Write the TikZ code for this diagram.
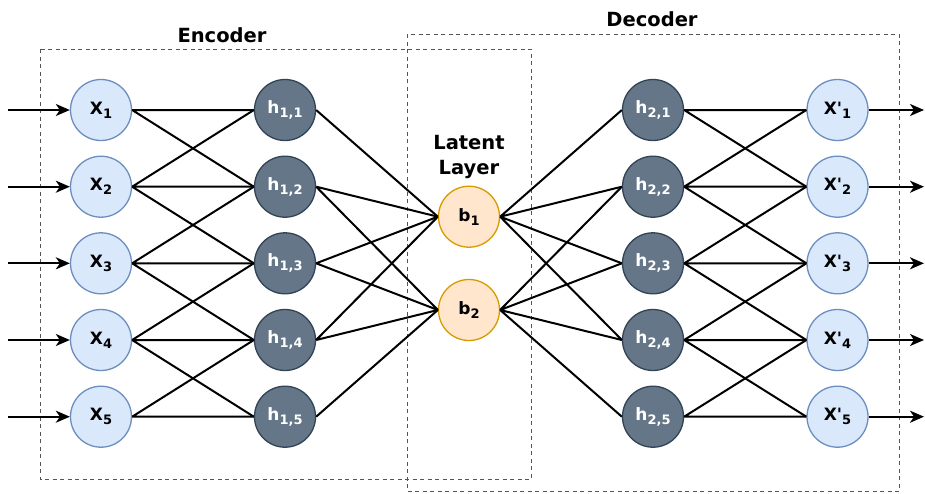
\documentclass[tikz,border=0pt]{standalone}
\usepackage{fontspec}
\setmainfont{DejaVu Sans}
\usetikzlibrary{arrows.meta}
\definecolor{infill}{HTML}{DAE8FC}
\definecolor{inedge}{HTML}{6C8EBF}
\definecolor{hidfill}{HTML}{647687}
\definecolor{hidedge}{HTML}{314354}
\definecolor{latfill}{HTML}{FFE6CC}
\definecolor{latedge}{HTML}{D79B00}
\definecolor{boxgray}{HTML}{555555}
% lowered index for the unit labels
\newcommand{\lsub}[1]{\raisebox{-0.45ex}{\fontsize{13}{13}\selectfont #1}}
\tikzset{
	unit/.style={
		circle,
		line width=1.3pt,
		minimum size=61pt,
		inner sep=0pt,
		font=\bfseries\fontsize{17}{18}\selectfont
	},
	xnode/.style={unit, draw=inedge, fill=infill},
	hnode/.style={unit, draw=hidedge, fill=hidfill, text=white},
	bnode/.style={unit, draw=latedge, fill=latfill},
	link/.style={line width=2pt},
	flow/.style={link, -{Stealth[length=14pt,width=12pt,inset=4pt]}},
	group/.style={draw=boxgray, line width=1pt, dash pattern=on 4pt off 3.5pt},
	title/.style={font=\bfseries\fontsize{19.5}{25}\selectfont, align=center}
}

\begin{document}
\begin{tikzpicture}[x=1pt,y=-1pt]
	\useasboundingbox (0,0) rectangle (925,493);
	
	% dashed frames
	\draw[group] (40,49) rectangle (531,479);
	\draw[group] (407,34) rectangle (899,491);
	\node[title] (enc) at (222,35) {Encoder};
	\node[title] (dec) at (652,19) {Decoder};
	\node[title] (lat) at (469,157) {Latent\\Layer};
	
	% input layer
	\node[xnode] (x1) at (101,110) {X\lsub{1}};
	\node[xnode] (x2) at (101,186.7) {X\lsub{2}};
	\node[xnode] (x3) at (101,263.3) {X\lsub{3}};
	\node[xnode] (x4) at (101,340) {X\lsub{4}};
	\node[xnode] (x5) at (101,416.7) {X\lsub{5}};
	
	% first hidden layer
	\node[hnode] (h11) at (285,110) {h\lsub{1,1}};
	\node[hnode] (h12) at (285,186.7) {h\lsub{1,2}};
	\node[hnode] (h13) at (285,263.3) {h\lsub{1,3}};
	\node[hnode] (h14) at (285,340) {h\lsub{1,4}};
	\node[hnode] (h15) at (285,416.7) {h\lsub{1,5}};
	
	% latent layer
	\node[bnode] (b1) at (469,216.7) {b\lsub{1}};
	\node[bnode] (b2) at (469,310) {b\lsub{2}};
	
	% second hidden layer
	\node[hnode] (h21) at (653,110) {h\lsub{2,1}};
	\node[hnode] (h22) at (653,186.7) {h\lsub{2,2}};
	\node[hnode] (h23) at (653,263.3) {h\lsub{2,3}};
	\node[hnode] (h24) at (653,340) {h\lsub{2,4}};
	\node[hnode] (h25) at (653,416.7) {h\lsub{2,5}};
	
	% output layer
	\node[xnode] (y1) at (837.5,110) {X\textquotesingle\lsub{1}};
	\node[xnode] (y2) at (837.5,186.7) {X\textquotesingle\lsub{2}};
	\node[xnode] (y3) at (837.5,263.3) {X\textquotesingle\lsub{3}};
	\node[xnode] (y4) at (837.5,340) {X\textquotesingle\lsub{4}};
	\node[xnode] (y5) at (837.5,416.7) {X\textquotesingle\lsub{5}};
	
	% free ends of the in/out arrows
	\coordinate (in1) at (8,110);
	\coordinate (in2) at (8,186.7);
	\coordinate (in3) at (8,263.3);
	\coordinate (in4) at (8,340);
	\coordinate (in5) at (8,416.7);
	\coordinate (out1) at (924,110);
	\coordinate (out2) at (924,186.7);
	\coordinate (out3) at (924,263.3);
	\coordinate (out4) at (924,340);
	\coordinate (out5) at (924,416.7);
	
	\draw[flow] (in1) -- (x1.west);
	\draw[flow] (in2) -- (x2.west);
	\draw[flow] (in3) -- (x3.west);
	\draw[flow] (in4) -- (x4.west);
	\draw[flow] (in5) -- (x5.west);
	
	% encoder links
	\draw[link] (x1.east) -- (h11.west) (x1.east) -- (h12.west);
	\draw[link] (x2.east) -- (h11.west) (x2.east) -- (h12.west) (x2.east) -- (h13.west);
	\draw[link] (x3.east) -- (h12.west) (x3.east) -- (h13.west) (x3.east) -- (h14.west);
	\draw[link] (x4.east) -- (h13.west) (x4.east) -- (h14.west) (x4.east) -- (h15.west);
	\draw[link] (x5.east) -- (h14.west) (x5.east) -- (h15.west);
	
	\draw[link] (h11.east) -- (b1.west);
	\draw[link] (h12.east) -- (b1.west) (h12.east) -- (b2.west);
	\draw[link] (h13.east) -- (b1.west) (h13.east) -- (b2.west);
	\draw[link] (h14.east) -- (b1.west) (h14.east) -- (b2.west);
	\draw[link] (h15.east) -- (b2.west);
	
	% decoder links
	\draw[link] (b1.east) -- (h21.west) (b1.east) -- (h22.west) (b1.east) -- (h23.west) (b1.east) -- (h24.west);
	\draw[link] (b2.east) -- (h22.west) (b2.east) -- (h23.west) (b2.east) -- (h24.west) (b2.east) -- (h25.west);
	
	\draw[link] (h21.east) -- (y1.west) (h21.east) -- (y2.west);
	\draw[link] (h22.east) -- (y1.west) (h22.east) -- (y2.west) (h22.east) -- (y3.west);
	\draw[link] (h23.east) -- (y2.west) (h23.east) -- (y3.west) (h23.east) -- (y4.west);
	\draw[link] (h24.east) -- (y3.west) (h24.east) -- (y4.west) (h24.east) -- (y5.west);
	\draw[link] (h25.east) -- (y4.west) (h25.east) -- (y5.west);
	
	\draw[flow] (y1.east) -- (out1);
	\draw[flow] (y2.east) -- (out2);
	\draw[flow] (y3.east) -- (out3);
	\draw[flow] (y4.east) -- (out4);
	\draw[flow] (y5.east) -- (out5);
\end{tikzpicture}
\end{document}
